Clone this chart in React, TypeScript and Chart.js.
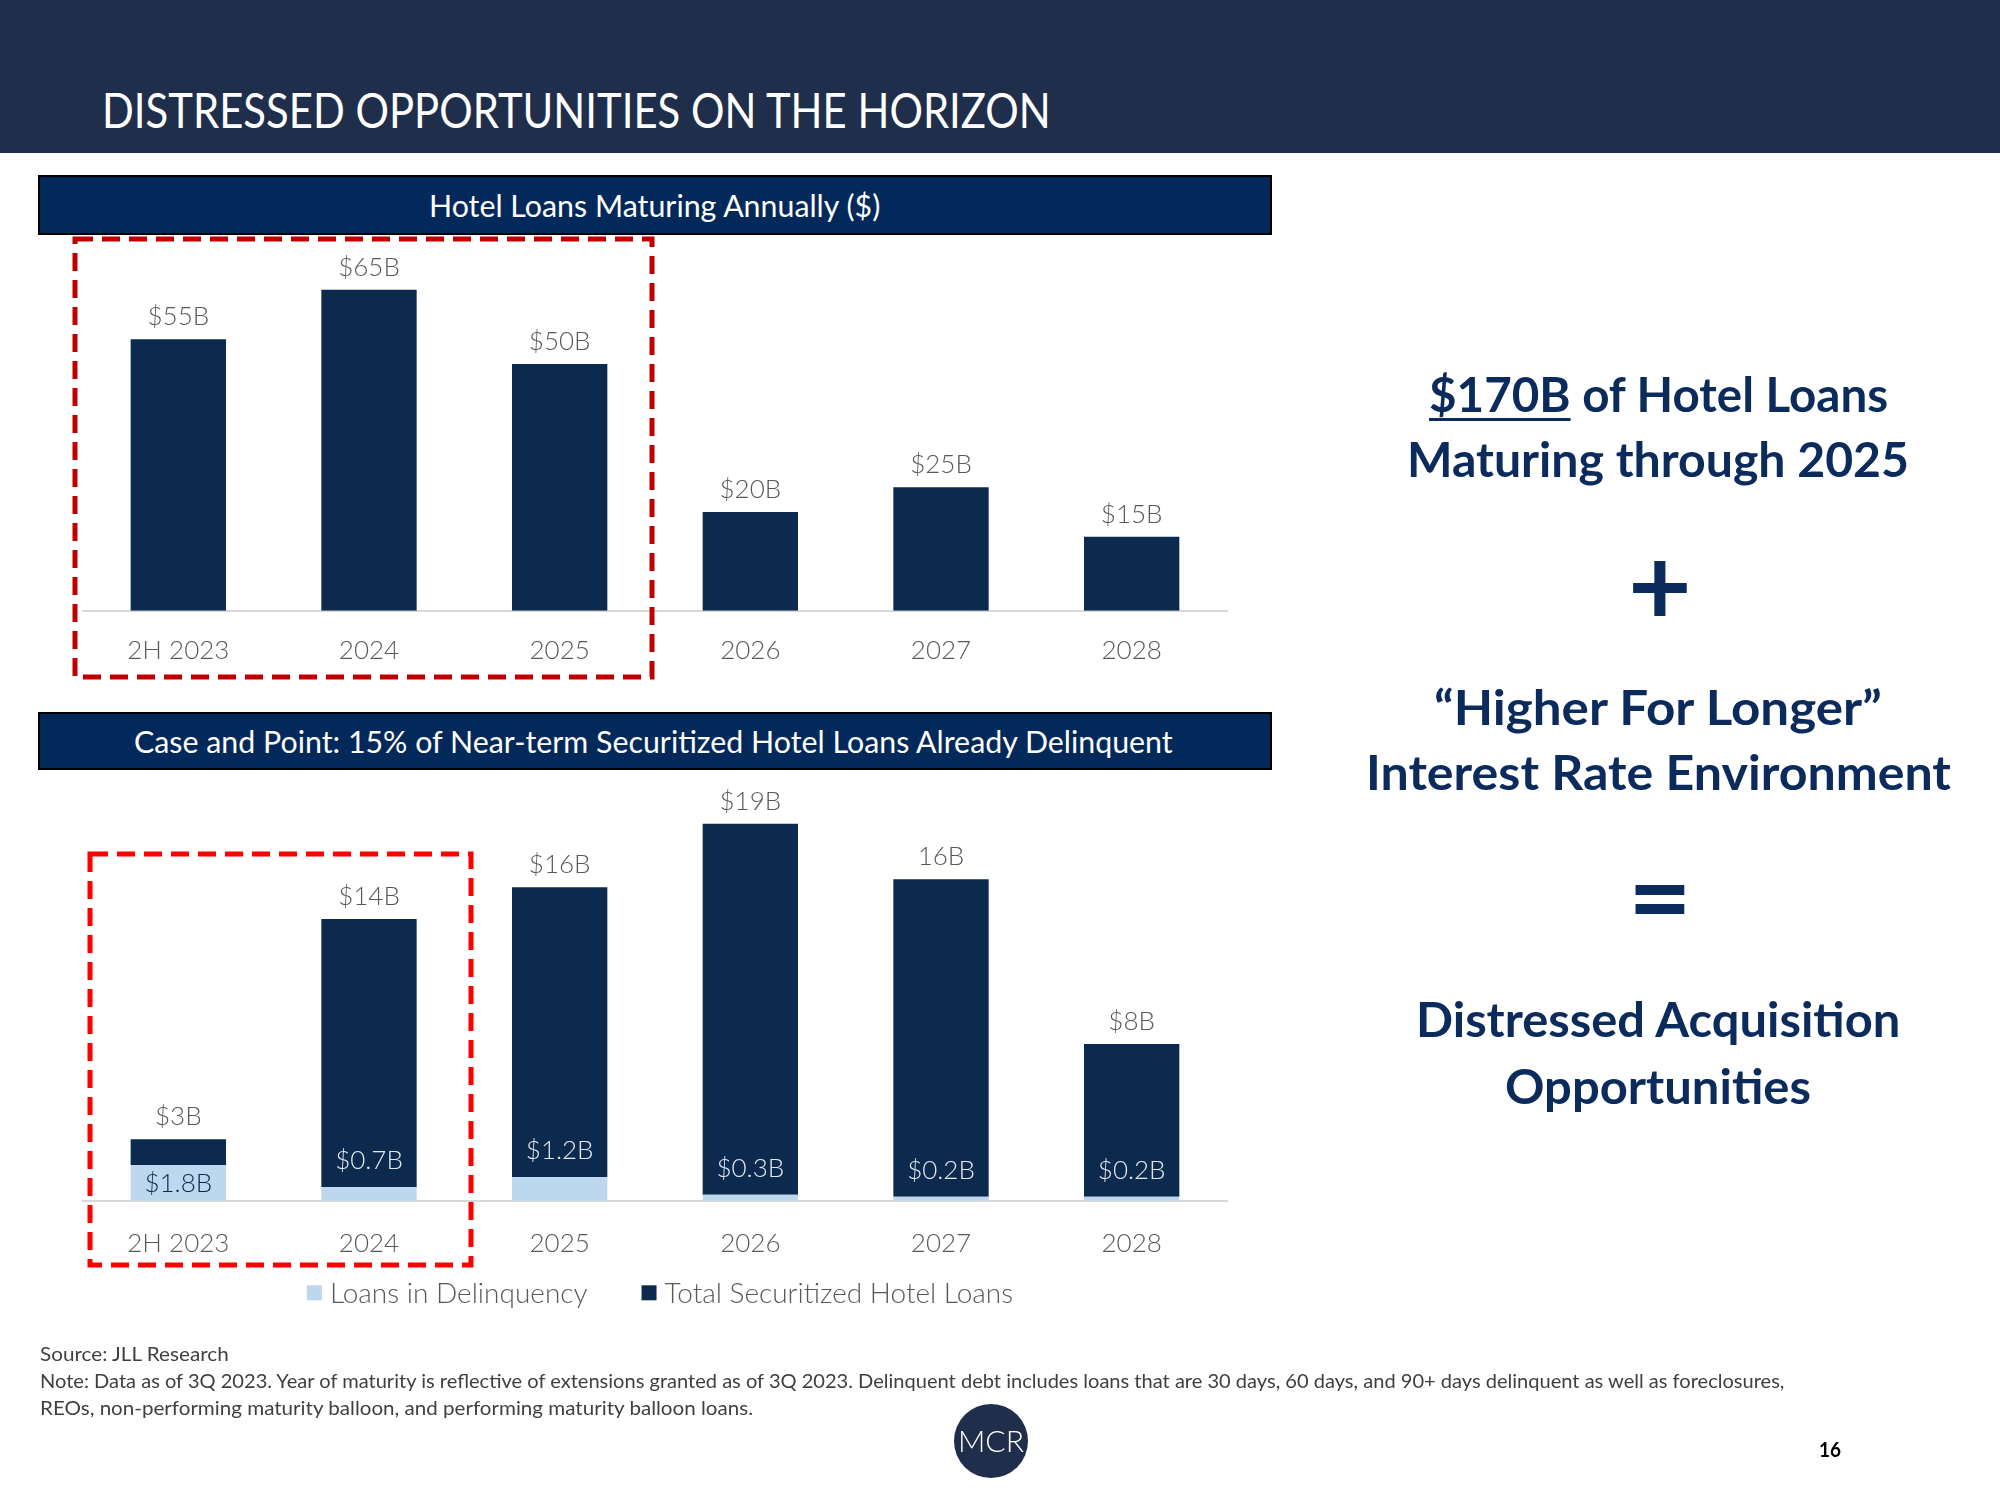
import React, { useEffect, useRef } from "react";
import { Chart, registerables } from "chart.js";
Chart.register(...registerables);

// ---------- DATA ----------
const categories = ["2H 2023", "2024", "2025", "2026", "2027", "2028"];
const maturingLoans = [55, 65, 50, 20, 25, 15]; // $B
const maturingLabels = ["$55B", "$65B", "$50B", "$20B", "$25B", "$15B"];

const securitizedTotals = [3.1, 14.2, 15.8, 19.0, 16.2, 7.9]; // $B
const delinquentLoans = [1.8, 0.7, 1.2, 0.3, 0.2, 0.2]; // $B
const totalLabels = ["$3B", "$14B", "$16B", "$19B", "16B", "$8B"];
const delinquentLabels = ["$1.8B", "$0.7B", "$1.2B", "$0.3B", "$0.2B", "$0.2B"];
const legendNames = ["Loans in Delinquency", "Total Securitized Hotel Loans"];

// ---------- STYLE ----------
const HEADER = "#1f2e4b";
const TITLEBAR = "#03295a";
const NAVY = "#0b2a4e";
const LIGHT = "#bdd7ee";
const TEXTNAVY = "#0a2b5c";
const GRAY = "#595959";
const FONT = "Lato";
const LABEL_FONT = `300 26px ${FONT}`;
const LEGEND_FONT = `300 28px ${FONT}`;

const measureCtx: CanvasRenderingContext2D | null =
  typeof document !== "undefined" ? document.createElement("canvas").getContext("2d") : null;

function Fit(props: any) {
  const { text, children, x, cy, w, size, weight = 400, color, family = FONT, style } = props;
  let scale = 1;
  if (measureCtx && w) {
    measureCtx.font = `${weight} ${size}px ${family}`;
    const m = measureCtx.measureText(text).width;
    if (m > 0) scale = w / m;
  }
  return (
    <div
      style={{
        position: "absolute",
        left: x,
        top: cy - 0.53 * size,
        fontFamily: family,
        fontSize: size,
        fontWeight: weight,
        lineHeight: `${size}px`,
        color,
        whiteSpace: "pre",
        transform: `scaleX(${scale})`,
        transformOrigin: "0 0",
        ...style,
      }}
    >
      {children ?? text}
    </div>
  );
}

function ChartCanvas(props: any) {
  const { makeConfig, left, top, width, height } = props;
  const ref = useRef<HTMLCanvasElement>(null);
  useEffect(() => {
    const chart = new Chart(ref.current as HTMLCanvasElement, makeConfig());
    return () => chart.destroy();
  }, []);
  return (
    <canvas
      ref={ref}
      width={width}
      height={height}
      style={{ position: "absolute", left, top, width, height }}
    />
  );
}

const xAxis = (pad: number) => ({
  grid: { display: false },
  border: { display: true, color: "#d9d9d9", width: 2 },
  ticks: { color: GRAY, font: { family: FONT, size: 26, weight: 300 }, padding: pad },
});

function chart1Config(): any {
  const labelsPlugin = {
    id: "topLabels1",
    afterDatasetsDraw(chart: any) {
      const ctx = chart.ctx;
      const meta = chart.getDatasetMeta(0);
      ctx.save();
      ctx.font = LABEL_FONT;
      ctx.fillStyle = GRAY;
      ctx.textAlign = "center";
      ctx.textBaseline = "alphabetic";
      meta.data.forEach((el: any, i: number) => ctx.fillText(maturingLabels[i], el.x, el.y - 14));
      ctx.restore();
    },
  };
  return {
    type: "bar",
    data: {
      labels: categories,
      datasets: [
        {
          label: "Hotel Loans Maturing Annually",
          data: maturingLoans,
          backgroundColor: NAVY,
          barPercentage: 0.5,
          categoryPercentage: 1,
        },
      ],
    },
    options: {
      animation: false,
      responsive: false,
      maintainAspectRatio: false,
      layout: { padding: { left: 83, right: 93, top: 0, bottom: 10 } },
      plugins: { legend: { display: false }, tooltip: { enabled: false } },
      scales: { x: xAxis(16), y: { display: false, min: 0, max: 75.1 } },
    },
    plugins: [labelsPlugin],
  };
}

function chart2Config(): any {
  const remaining = securitizedTotals.map((t, i) => Math.round((t - delinquentLoans[i]) * 10) / 10);
  const labelsPlugin = {
    id: "labels2",
    afterDatasetsDraw(chart: any) {
      const ctx = chart.ctx;
      const topMeta = chart.getDatasetMeta(1);
      const lowMeta = chart.getDatasetMeta(0);
      ctx.save();
      ctx.font = LABEL_FONT;
      ctx.textAlign = "center";
      ctx.textBaseline = "alphabetic";
      ctx.fillStyle = GRAY;
      topMeta.data.forEach((el: any, i: number) => ctx.fillText(totalLabels[i], el.x, el.y - 14));
      ctx.textBaseline = "middle";
      lowMeta.data.forEach((el: any, i: number) => {
        const h = el.base - el.y;
        if (h > 30) {
          ctx.fillStyle = NAVY;
          ctx.fillText(delinquentLabels[i], el.x, (el.y + el.base) / 2 + 1);
        } else {
          ctx.fillStyle = "#e3e8f0";
          ctx.fillText(delinquentLabels[i], el.x, el.y - 26);
        }
      });
      // legend
      ctx.font = LEGEND_FONT;
      const ds = chart.data.datasets;
      const box = 15, gapBT = 8, gapItems = 54;
      const widths = ds.map((d: any) => ctx.measureText(d.label).width);
      const total = widths.reduce((a: number, w: number) => a + box + gapBT + w, 0) + gapItems * (ds.length - 1);
      let x = chart.width / 2 - total / 2;
      const y = chart.chartArea.bottom + 92;
      ds.forEach((d: any, i: number) => {
        ctx.fillStyle = d.backgroundColor;
        ctx.fillRect(x, y - box / 2, box, box);
        x += box + gapBT;
        ctx.fillStyle = GRAY;
        ctx.textAlign = "left";
        ctx.fillText(d.label, x, y + 1);
        x += widths[i] + gapItems;
      });
      ctx.restore();
    },
  };
  return {
    type: "bar",
    data: {
      labels: categories,
      datasets: [
        {
          label: legendNames[0],
          data: delinquentLoans,
          backgroundColor: LIGHT,
          barPercentage: 0.5,
          categoryPercentage: 1,
        },
        {
          label: legendNames[1],
          data: remaining,
          backgroundColor: NAVY,
          barPercentage: 0.5,
          categoryPercentage: 1,
        },
      ],
    },
    options: {
      animation: false,
      responsive: false,
      maintainAspectRatio: false,
      layout: { padding: { left: 83, right: 93, top: 0, bottom: 42 } },
      plugins: { legend: { display: false }, tooltip: { enabled: false } },
      scales: {
        x: { ...xAxis(19), stacked: true },
        y: { display: false, min: 0, max: 21.2, stacked: true },
      },
    },
    plugins: [labelsPlugin],
  };
}

export default function App() {
  return (
    <div
      style={{
        position: "absolute",
        left: 0,
        top: 0,
        width: 2000,
        height: 1500,
        background: "#ffffff",
        overflow: "hidden",
        fontFamily: FONT,
      }}
    >
      {/* header */}
      <div style={{ position: "absolute", left: 0, top: 0, width: 2000, height: 153, background: HEADER }} />
      <Fit text="DISTRESSED OPPORTUNITIES ON THE HORIZON" x={102} cy={111} w={950} size={49} color="#ffffff" />

      {/* chart title bars */}
      <div
        style={{
          position: "absolute",
          left: 38,
          top: 175,
          width: 1234,
          height: 60,
          background: TITLEBAR,
          border: "2px solid #000",
          boxSizing: "border-box",
        }}
      />
      <Fit text="Hotel Loans Maturing Annually ($)" x={429} cy={206} w={453} size={31} color="#ffffff" />
      <div
        style={{
          position: "absolute",
          left: 38,
          top: 712,
          width: 1234,
          height: 58,
          background: TITLEBAR,
          border: "2px solid #000",
          boxSizing: "border-box",
        }}
      />
      <Fit
        text="Case and Point: 15% of Near-term Securitized Hotel Loans Already Delinquent"
        x={134}
        cy={742}
        w={1041}
        size={31}
        color="#ffffff"
      />

      {/* charts */}
      <ChartCanvas makeConfig={chart1Config} left={0} top={240} width={1320} height={452} />
      <ChartCanvas makeConfig={chart2Config} left={0} top={780} width={1320} height={540} />

      {/* dashed highlight boxes */}
      <svg
        width={2000}
        height={1500}
        style={{ position: "absolute", left: 0, top: 0, pointerEvents: "none" }}
      >
        <rect x={75} y={239} width={577} height={438} fill="none" stroke="#c00000" strokeWidth={5} strokeDasharray="18 9" />
        <rect x={90} y={854} width={381} height={411} fill="none" stroke="#ff0000" strokeWidth={5} strokeDasharray="18 9" />
      </svg>

      {/* right-hand text */}
      <Fit text="$170B of Hotel Loans" x={1429} cy={395} w={460} size={48} weight={700} color={TEXTNAVY}>
        <span style={{ textDecoration: "underline", textDecorationThickness: "3px", textUnderlineOffset: "6px" }}>$170B</span>
        {" of Hotel Loans"}
      </Fit>
      <Fit text="Maturing through 2025" x={1407} cy={460} w={502} size={48} weight={700} color={TEXTNAVY} />
      <Fit text="+" x={1628} cy={588} size={110} weight={700} color={TEXTNAVY} style={{ top: 588 - 0.557 * 110 }} />
      <Fit text="“Higher For Longer”" x={1434} cy={708} w={450} size={48} weight={700} color={TEXTNAVY} />
      <Fit text="Interest Rate Environment" x={1366} cy={773} w={585} size={48} weight={700} color={TEXTNAVY} />
      <Fit text="=" x={1628} cy={899} size={110} weight={700} color={TEXTNAVY} style={{ top: 899 - 0.557 * 110 }} />
      <Fit text="Distressed Acquisition" x={1416} cy={1020} w={486} size={48} weight={700} color={TEXTNAVY} />
      <Fit text="Opportunities" x={1505} cy={1087} w={306} size={48} weight={700} color={TEXTNAVY} />

      {/* footer */}
      <Fit text="Source: JLL Research" x={40} cy={1354} w={190} size={20} color="#404040" />
      <Fit
        text="Note: Data as of 3Q 2023. Year of maturity is reflective of extensions granted as of 3Q 2023. Delinquent debt includes loans that are 30 days, 60 days, and 90+ days delinquent as well as foreclosures,"
        x={40}
        cy={1381}
        w={1748}
        size={20}
        color="#404040"
      />
      <Fit
        text="REOs, non-performing maturity balloon, and performing maturity balloon loans."
        x={40}
        cy={1408}
        w={714}
        size={20}
        color="#404040"
      />

      {/* logo */}
      <div
        style={{
          position: "absolute",
          left: 954,
          top: 1404,
          width: 74,
          height: 74,
          borderRadius: "50%",
          background: HEADER,
        }}
      />
      <Fit text="MCR" x={958} cy={1441} w={66} size={30} weight={300} color="#ffffff" />

      {/* page number */}
      <Fit text="16" x={1819} cy={1450} w={22} size={20} weight={700} color="#000000" />
    </div>
  );
}
